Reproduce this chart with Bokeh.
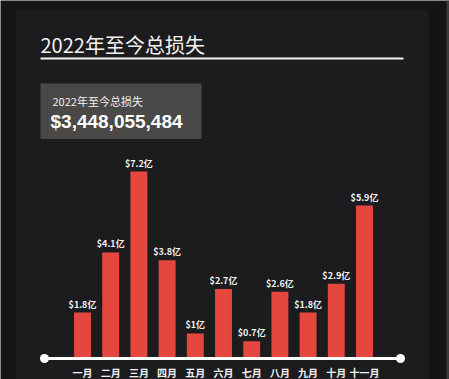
from bokeh.plotting import figure
from bokeh.models import Range1d, ColumnDataSource
from bokeh.core.properties import value
from bokeh.embed import file_html
from bokeh.resources import INLINE

# ---- data ----
months = ["一月", "二月", "三月", "四月", "五月", "六月", "七月", "八月", "九月", "十月", "十一月"]
losses = [1.8, 4.1, 7.2, 3.8, 1.0, 2.7, 0.7, 2.6, 1.8, 2.9, 5.9]  # 亿美元
value_labels = ["$1.8亿", "$4.1亿", "$7.2亿", "$3.8亿", "$1亿", "$2.7亿", "$0.7亿", "$2.6亿", "$1.8亿", "$2.9亿", "$5.9亿"]
title_text = "2022年至今总损失"
total_text = "$3,448,055,484"

W, H = 449, 379
# pixel scale of data
PX_PER_CAT = 28.2
X0_PX = 82.0          # pixel centre of first bar
PX_PER_UNIT = 26.1
BASE_PX = 359.0       # baseline pixel (from top)

x_start = -X0_PX / PX_PER_CAT
x_end = x_start + W / PX_PER_CAT
y_start = -(H - BASE_PX) / PX_PER_UNIT
y_end = y_start + H / PX_PER_UNIT

def px_x(px):
    return x_start + px / PX_PER_CAT

def px_y(py):
    return y_start + (H - py) / PX_PER_UNIT

p = figure(width=W, height=H, output_backend="svg", toolbar_location=None,
           x_range=Range1d(x_start, x_end), y_range=Range1d(y_start, y_end),
           min_border=0, outline_line_color=None)
p.axis.visible = False
p.grid.visible = False
p.background_fill_color = "#141414"
p.border_fill_color = "#141414"

FONT = value("Noto Sans CJK SC")

# inner panel
p.quad(left=[px_x(15)], right=[px_x(428)], top=[px_y(9)], bottom=[px_y(H + 5)],
       fill_color="#1c1c1e", line_color=None)
# thin right edge strip
p.quad(left=[px_x(446)], right=[px_x(449)], top=[px_y(0)], bottom=[px_y(H)],
       fill_color="#3a3a3a", line_color=None)

# title + underline
p.text(x=[px_x(40)], y=[px_y(44)], text=[title_text], text_font=FONT,
       text_font_size="20px", text_color="#f2f2f2", text_baseline="middle",
       text_align="left")
p.segment(x0=[px_x(40)], x1=[px_x(403)], y0=[px_y(58)], y1=[px_y(58)],
          line_color="#f2f2f2", line_width=2)

# summary box
p.quad(left=[px_x(40)], right=[px_x(201)], top=[px_y(83)], bottom=[px_y(138.5)],
       fill_color="#4a4948", line_color=None)
p.text(x=[px_x(52)], y=[px_y(100)], text=[title_text], text_font=FONT,
       text_font_size="11px", text_color="#f2f2f2", text_baseline="middle",
       text_align="left")
p.text(x=[px_x(50)], y=[px_y(120.5)], text=[total_text], text_font=value("Liberation Sans"),
       text_font_size="19px", text_font_style="bold", text_color="#ffffff",
       text_baseline="middle", text_align="left")

# bars
xs = list(range(len(months)))
src = ColumnDataSource(dict(x=xs, top=losses, month=months, lab=value_labels))
p.vbar(x="x", top="top", bottom=0, width=0.6, source=src,
       fill_color="#e5463e", line_color=None)
p.text(x="x", y="top", text="lab", source=src, text_font=FONT,
       text_font_size="9px", text_font_style="bold", text_color="#f2f2f2",
       text_align="center", text_baseline="bottom", y_offset=-2)

# baseline axis with end dots
p.segment(x0=[px_x(44)], x1=[px_x(400)], y0=[px_y(358)], y1=[px_y(358)],
          line_color="#ffffff", line_width=3)
p.scatter(x=[px_x(44), px_x(400)], y=[px_y(358), px_y(358)], size=9,
          marker="circle", fill_color="#ffffff", line_color=None)

# month labels
p.text(x="x", y=0, text="month", source=src, text_font=FONT,
       text_font_size="10px", text_font_style="bold", text_color="#f2f2f2",
       text_align="center", text_baseline="middle", y_offset=13)

open("out.html", "w").write(file_html(p, INLINE))
